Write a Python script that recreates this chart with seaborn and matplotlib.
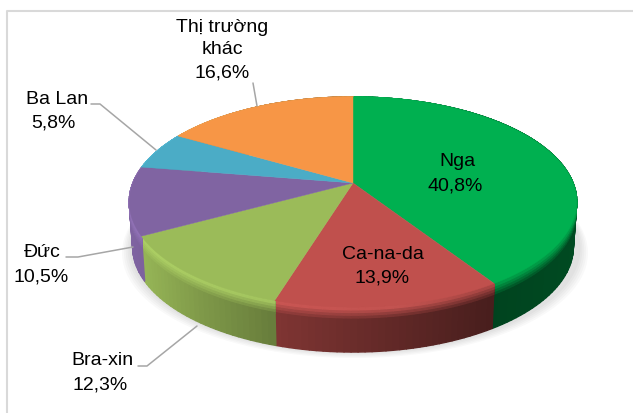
import numpy as np
import matplotlib
matplotlib.use('Agg')
import matplotlib.pyplot as plt
import seaborn as sns
from matplotlib.collections import PolyCollection

# -- data --
markets = ['Nga', 'Ca-na-da', 'Bra-xin', 'Đức', 'Ba Lan', 'Thị trường khác']
shares = [40.8, 13.9, 12.3, 10.5, 5.8, 16.6]
share_labels = ['40,8%', '13,9%', '12,3%', '10,5%', '5,8%', '16,6%']
slice_colors = ['#00B050', '#C0504D', '#9BBB59', '#8064A2', '#4BACC6', '#F79646']

sns.set_theme(style='white')
plt.rcParams['font.family'] = ['Liberation Sans', 'DejaVu Sans']

fig, ax = plt.subplots(figsize=(6.33, 4.14), dpi=100)
fig.subplots_adjust(0, 0, 1, 1)
palette = sns.color_palette(slice_colors)

# pie gives the slice angles, the visible faces are re-projected below
wedges, _ = ax.pie(shares, colors=palette, startangle=90, counterclock=False)
for w in wedges:
    w.set_visible(False)

ax.set_aspect('auto')
ax.set_xlim(0, 633)
ax.set_ylim(414, 0)
ax.axis('off')


# perspective view of the unit circle, in pixels
def project(u, v, drop=0.0, narrow=1.0):
    den = 1 + 0.181 * v
    x = 353 + 220 * narrow * u / den
    y = (184 - 68.3 * v) / den + drop
    return x, y


def wall_shade(x):
    return np.interp(x, [129, 150, 200, 278, 490, 577], [1.0, 0.95, 0.82, 0.66, 0.38, 0.42])


wall_h = 45

# soft shadow
t = np.radians(np.linspace(0, 360, 200))
for grow in [10, 8, 6, 4, 2]:
    sx, sy = project(np.cos(t), np.sin(t), drop=wall_h + grow * 0.6, narrow=1.0)
    sx = 353 + (sx - 353) * (1 + grow / 240)
    ax.fill(sx + 2, sy, color='black', alpha=0.025, lw=0, zorder=1)

# side wall: one layer per band, each slice split along the rim for the x shading
bands = [1.0, 0.3, 0.24, 0.18, 0.12, 0.06]
for w, col in zip(wedges, palette):
    col = np.array(col)
    ang = np.radians(np.linspace(w.theta1, w.theta2, max(int((w.theta2 - w.theta1) / 1.5), 4) + 1))
    for f in bands:
        polys, cols = [], []
        for a0, a1 in zip(ang[:-1], ang[1:]):
            xm, _ = project(np.cos((a0 + a1) / 2), np.sin((a0 + a1) / 2))
            base = col * wall_shade(xm)
            glow = np.interp(xm, [130, 400, 480], [0.12, 0.12, 0.0])
            rim = np.clip(col * (1 + glow) + glow * 0.12, 0, 1)
            mix = min(f / 0.3, 1)
            pts = [project(np.cos(a0), np.sin(a0)), project(np.cos(a1), np.sin(a1)),
                   project(np.cos(a1), np.sin(a1), drop=f * wall_h, narrow=1 - 0.015 * f),
                   project(np.cos(a0), np.sin(a0), drop=f * wall_h, narrow=1 - 0.015 * f)]
            polys.append(pts)
            cols.append(rim * (1 - mix) + base * mix)
        ax.add_collection(PolyCollection(polys, facecolors=cols, edgecolors=cols, linewidths=1.0,
                                         antialiased=True, zorder=2))

# top faces
for w, col in zip(wedges, palette):
    ang = np.radians(np.linspace(w.theta1, w.theta2, 100))
    x, y = project(np.cos(ang), np.sin(ang))
    cx, cy = project(0, 0)
    ax.fill(np.r_[cx, x], np.r_[cy, y], color=col, lw=0.3, zorder=3)

# leader lines
leader = '#A6A6A6'
ax.plot([253, 257], [84, 107], color=leader, lw=1.1, zorder=4)
ax.plot([91, 100, 156], [105, 105, 151], color=leader, lw=1.1, zorder=4)
ax.plot([66, 78, 133], [258, 258, 248], color=leader, lw=1.1, zorder=4)
ax.plot([138, 147, 197], [367, 367, 327], color=leader, lw=1.1, zorder=4)

# labels
txt = dict(ha='center', va='center', fontsize=14, color='black', zorder=5)
ax.text(457, 162, markets[0], **txt)
ax.text(455, 186, share_labels[0], **txt)
ax.text(383, 255, markets[1], **txt)
ax.text(382, 278, share_labels[1], **txt)
ax.text(102, 361, markets[2], **txt)
ax.text(100, 385, share_labels[2], **txt)
ax.text(42, 253, markets[3], **txt)
ax.text(41, 277, share_labels[3], **txt)
ax.text(57, 100, markets[4], **txt)
ax.text(53, 123, share_labels[4], **txt)
ax.text(222, 27, 'Thị trường', **txt)
ax.text(222, 50, 'khác', **txt)
ax.text(222, 73, share_labels[5], **txt)

# chart frame, only top and left show
ax.plot([6.5, 6.5, 633], [414, 12, 12], color='#D9D9D9', lw=1.5, zorder=1)

fig.savefig('out.png', dpi=100)
